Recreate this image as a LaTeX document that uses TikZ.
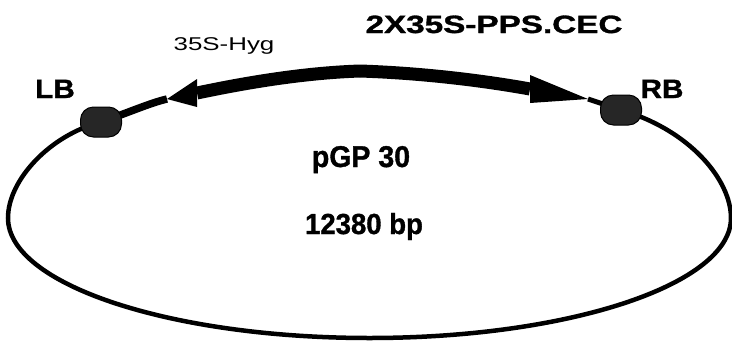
\documentclass[tikz,border=0pt]{standalone}
\usepackage{fontspec}
\setmainfont{Liberation Sans}
\newfontfamily\heavy[FakeBold=1.2]{Liberation Sans Bold}
\usepackage{graphicx}
\usetikzlibrary{backgrounds}
\begin{document}
\begin{tikzpicture}[x=1pt,y=-1pt,
  bead/.style={draw=black,fill=black!85,rounded corners=13pt,minimum width=41pt,minimum height=30pt,inner sep=0pt,line width=1pt},
  lab/.style={inner sep=0pt,anchor=base,font=\heavy},
  backbone/.style={line width=4.5pt,line cap=round},
  band/.style={line width=13pt},
]
\useasboundingbox (0,0) rectangle (732,341);
% beads
\node[bead] (LB) at (101,122) {};
\node[bead] (RB) at (621,110) {};
\coordinate (apex) at (360,71);
\coordinate (lback) at (197,93);
\coordinate (rback) at (530,89);
\coordinate (ltip) at (167,99);
\coordinate (rtip) at (588,99);
\begin{pgfonlayer}{background}
% backbone
\draw[backbone] (LB.center) .. controls (50,135) and (8,180) .. (8,218)
  arc[start angle=180,end angle=360,x radius=361.5,y radius=-120]
  .. controls (731,180) and (690,130) .. (RB.center);
% thin ends
\draw[line width=7.5pt] (ltip) .. controls (150,103) and (130,112) .. (LB.center);
\draw[line width=5pt] (rtip) -- (RB.center);
\end{pgfonlayer}
% thick bands
\draw[band] (apex) .. controls (300,73) and (240,84) .. (lback);
\draw[band] (apex) .. controls (420,73) and (480,80) .. (rback);
% heads
\fill (197,79) -- (197,107) -- (ltip) -- cycle;
\fill (530,75) -- (530,103) -- (rtip) -- cycle;
% labels
\node[lab] (title) at (494,33) {\scalebox{1.33}[1]{\fontsize{25}{25}\selectfont 2X35S-PPS.CEC}};
\node[lab,font=\normalfont] (hyg) at (224,50) {\scalebox{1.4}[1]{\fontsize{18.5}{18.5}\selectfont 35S-Hyg}};
\node[lab] (lbl) at (55,98) {\scalebox{1.12}[1]{\fontsize{26.5}{26.5}\selectfont LB}};
\node[lab] (rbl) at (662,98) {\scalebox{1.12}[1]{\fontsize{26.5}{26.5}\selectfont RB}};
\node[lab] (name) at (361,167) {\scalebox{0.95}[1]{\fontsize{30}{30}\selectfont pGP 30}};
\node[lab] (size) at (364,234) {\scalebox{0.95}[1]{\fontsize{29}{29}\selectfont 12380 bp}};
\end{tikzpicture}
\end{document}
